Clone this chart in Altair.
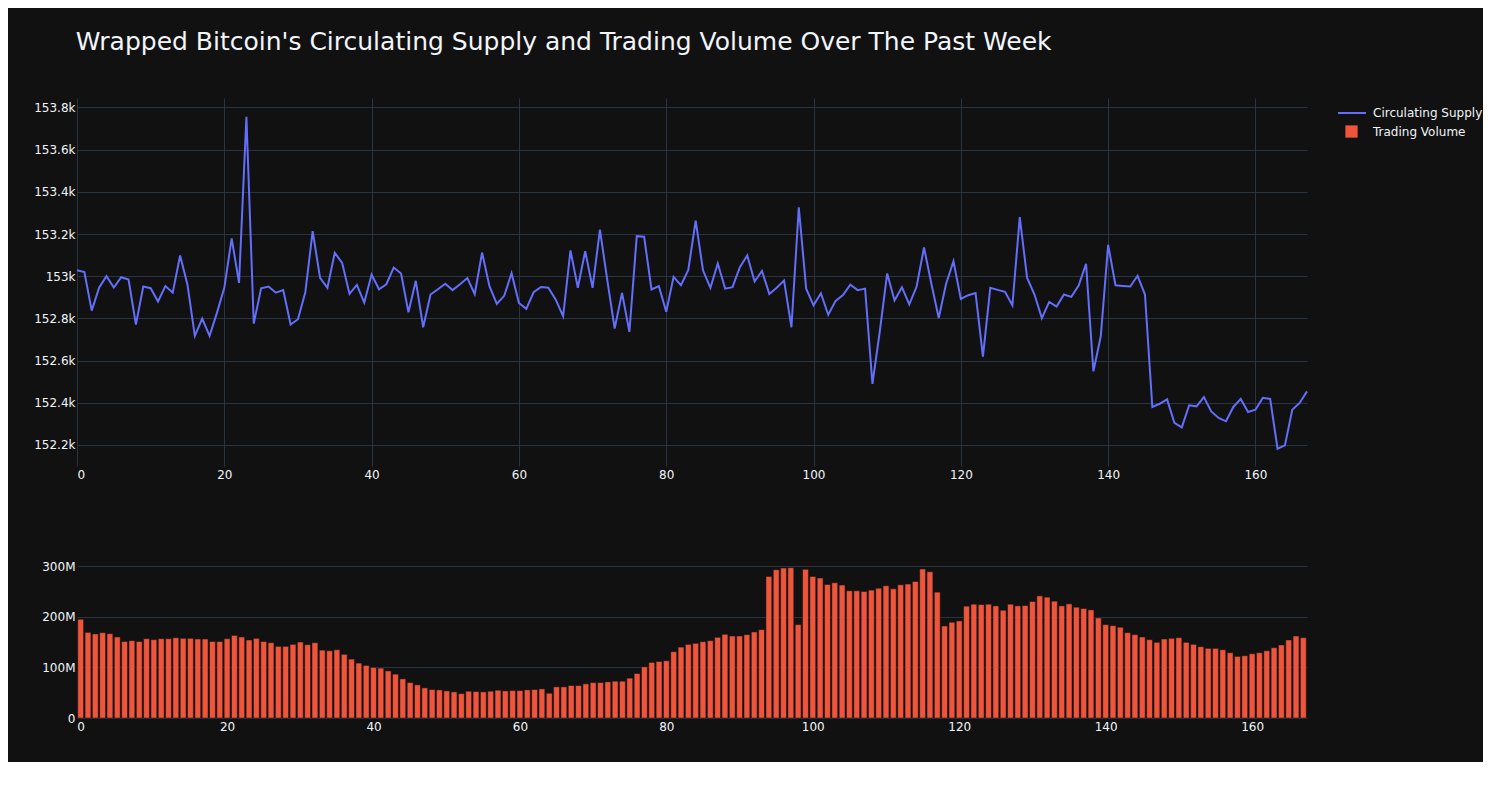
import altair as alt
import pandas as pd

hours = list(range(168))

supply = [
    153028, 153020, 152837, 152945, 153000, 152946, 152995, 152984, 152771, 152951,
    152943, 152880, 152953, 152922, 153098, 152960, 152717, 152799, 152717, 152826,
    152945, 153179, 152968, 153756, 152775, 152943, 152951, 152922, 152934, 152771,
    152796, 152924, 153214, 152992, 152945, 153111, 153063, 152916, 152959, 152875,
    153008, 152938, 152962, 153041, 153013, 152829, 152978, 152758, 152913, 152938,
    152964, 152934, 152962, 152991, 152915, 153112, 152953, 152869, 152907, 153014,
    152873, 152845, 152924, 152949, 152945, 152889, 152810, 153122, 152945, 153119,
    152945, 153221, 152981, 152752, 152921, 152736, 153190, 153187, 152937, 152953,
    152831, 152997, 152957, 153030, 153264, 153027, 152945, 153060, 152941, 152948,
    153043, 153098, 152975, 153025, 152916, 152945, 152979, 152758, 153327, 152941,
    152862, 152919, 152817, 152883, 152911, 152960, 152934, 152941, 152489, 152739,
    153013, 152885, 152948, 152866, 152951, 153136, 152964, 152802, 152964, 153071,
    152892, 152910, 152920, 152619, 152945, 152935, 152926, 152862, 153280, 152992,
    152913, 152801, 152878, 152856, 152913, 152902, 152956, 153059, 152549, 152715,
    153149, 152957, 152954, 152951, 153002, 152913, 152380, 152395, 152416, 152305,
    152283, 152388, 152383, 152427, 152359, 152328, 152312, 152380, 152418, 152356,
    152367, 152423, 152418, 152182, 152198, 152367, 152399, 152454,
]

volume_m = [
    195, 169, 166, 168.5, 166.5, 160, 151, 152.7, 151, 156.6,
    154.7, 156.6, 156.6, 158.6, 157.3, 157.3, 156, 156, 151, 151,
    156.6, 163, 160, 154, 157.3, 151, 148.7, 141.4, 141.4, 145.4,
    150, 144.7, 148.7, 134, 132.8, 134.8, 125.6, 116.3, 108.4, 103.8,
    99.8, 98.5, 93, 86.6, 77.3, 70, 65.4, 59.5, 56.2, 55.5,
    53.5, 51.6, 48.2, 52.9, 52.2, 51.6, 52.9, 54.9, 53.5, 54.2,
    54.2, 55.5, 56.2, 57.5, 48.9, 61.5, 61.5, 64.1, 64.1, 67.4,
    70, 70, 71.4, 72.7, 72.7, 78.7, 87.9, 101, 109.7, 111.7,
    113, 130.9, 140, 145.4, 147.4, 150.7, 152.7, 159.3, 165.2, 161.9,
    161.9, 164.6, 169.9, 174.5, 279.6, 292.8, 296.1, 296.8, 184.4, 293.5,
    279.6, 276.3, 263.7, 267, 262.4, 251.2, 251.2, 249.8, 252.5, 256.4,
    261.1, 255.1, 263, 264.4, 269.7, 294.1, 288.8, 248.5, 181.8, 189,
    191.7, 220.8, 224.7, 224, 224.7, 221.4, 212.8, 224.7, 221.4, 222,
    230, 241.2, 238.6, 230.7, 221.4, 225.4, 218.8, 216.1, 213.5, 197.6,
    184.4, 182.4, 179.1, 168.5, 164.6, 159.9, 154.7, 149.4, 156, 157.3,
    158.6, 149.4, 145.4, 140.8, 137.5, 137.5, 134.8, 128.9, 121.6, 122.9,
    126.9, 128.9, 132.8, 138.8, 144.1, 154, 161.9, 158.6,
]

series_names = ["Circulating Supply", "Trading Volume"]
series_colors = ["#636efa", "#EF553B"]
x_ticks = list(range(0, 161, 20))
supply_ticks = list(range(152200, 153801, 200))
volume_ticks = [0, 100e6, 200e6, 300e6]

BG = "#111111"
GRID = "#283442"
TXT = "#f2f5fa"
FONT = "DejaVu Sans"

df_s = pd.DataFrame({"hour": hours, "supply": supply, "series": series_names[0]})
df_v = pd.DataFrame({"hour": hours, "volume_m": volume_m, "series": series_names[1]})

legend_common = dict(orient="none", title=None, labelFont=FONT, labelFontSize=12,
                     labelColor=TXT)

axis_common = dict(domain=False, ticks=False, gridColor=GRID,
                   labelColor=TXT, labelFont=FONT, labelFontSize=12, title=None)

top = alt.Chart(df_s).mark_line(strokeWidth=2).encode(
    x=alt.X("hour:Q", scale=alt.Scale(domain=[0, 167], nice=False),
            axis=alt.Axis(values=x_ticks, grid=True, labelPadding=3, **axis_common)),
    y=alt.Y("supply:Q", scale=alt.Scale(domain=[152100, 153845], nice=False, zero=False),
            axis=alt.Axis(values=supply_ticks, format=".4~s", grid=True, labelPadding=2,
                          **axis_common)),
    color=alt.Color("series:N", scale=alt.Scale(domain=[series_names[0]], range=[series_colors[0]]),
                    legend=alt.Legend(legendX=1260, legendY=0, symbolType="stroke",
                                      symbolSize=784, symbolStrokeWidth=2, labelOffset=6,
                                      **legend_common)),
).properties(width=1230, height=368)

bottom = alt.Chart(df_v).transform_calculate(
    volume="datum.volume_m * 1000000",
    x0="datum.hour - 0.4",
    x1="datum.hour + 0.4",
).mark_bar(stroke="#111111", strokeWidth=0.5).encode(
    x=alt.X("x0:Q", scale=alt.Scale(domain=[-0.5, 167.5], nice=False),
            axis=alt.Axis(values=x_ticks, grid=False, labelPadding=3, **axis_common)),
    x2="x1:Q",
    y=alt.Y("volume:Q", scale=alt.Scale(domain=[0, 310e6], nice=False),
            axis=alt.Axis(values=volume_ticks, grid=True, labelPadding=2,
                          labelExpr="datum.value == 0 ? '0' : format(datum.value, '~s')",
                          **axis_common)),
    y2=alt.datum(0),
    color=alt.Color("series:N", scale=alt.Scale(domain=[series_names[1]], range=[series_colors[1]]),
                    legend=alt.Legend(legendX=1268, legendY=-436, symbolType="square",
                                      symbolSize=150, symbolStrokeWidth=0, labelOffset=15,
                                      **legend_common)),
).properties(width=1230, height=157)

chart = alt.vconcat(top, bottom, spacing=95, bounds="flush").resolve_scale(
    color="independent"
).resolve_legend(color="independent").properties(
    title=alt.Title("Wrapped Bitcoin's Circulating Supply and Trading Volume Over The Past Week",
                    anchor="start", font=FONT, fontSize=25, fontWeight="normal",
                    color=TXT, offset=43, dx=42),
    background=BG,
    padding={"left": 25, "top": 22, "right": 0, "bottom": 30},
).configure_view(stroke=None)

chart.save("out.html", embed_options={"renderer": "svg", "actions": False})
